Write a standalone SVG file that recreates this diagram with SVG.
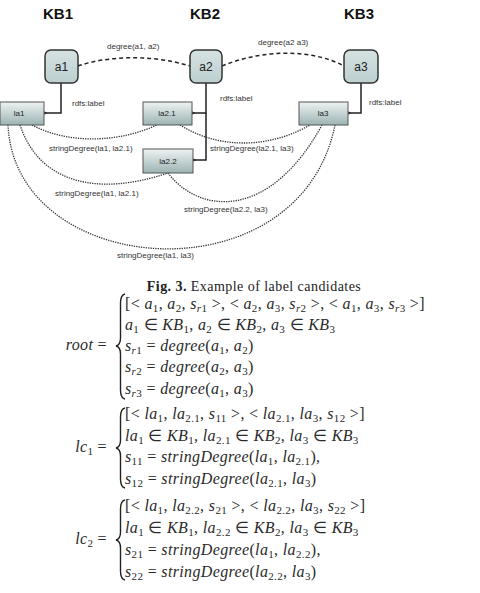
<svg xmlns="http://www.w3.org/2000/svg" width="480" height="593" viewBox="0 0 480 593">
<defs>
<linearGradient id="gl" x1="0" y1="0" x2="0" y2="1"><stop offset="0" stop-color="#eef3f3"/><stop offset="1" stop-color="#9db3b3"/></linearGradient>
<linearGradient id="ga" x1="0" y1="0" x2="0" y2="1"><stop offset="0" stop-color="#d6e2e2"/><stop offset="1" stop-color="#bccfcf"/></linearGradient>
<marker id="arr" viewBox="0 0 10 10" refX="1" refY="5" markerWidth="8" markerHeight="8" orient="auto-start-reverse" markerUnits="userSpaceOnUse"><path d="M9 1 L1 5 L9 9" fill="none" stroke="#222" stroke-width="1.6"/></marker>
</defs>
<style>
.kb{font-family:"Liberation Sans",Arial,sans-serif;font-weight:bold;font-size:15px;fill:#111;text-anchor:middle}
.an rect{fill:url(#ga);stroke:#333;stroke-width:1.5}
.an text{font-family:"Liberation Sans",Arial,sans-serif;font-size:12px;fill:#222;text-anchor:middle}
.ln rect{fill:url(#gl);stroke:#555;stroke-width:1}
.ln text{font-family:"Liberation Sans",Arial,sans-serif;font-size:8px;fill:#222;text-anchor:middle}
.lbl{font-family:"Liberation Sans",Arial,sans-serif;font-size:8px;fill:#333}
.rl{fill:none;stroke:#222;stroke-width:1.5}
.dg{fill:none;stroke:#222;stroke-width:1.5;stroke-dasharray:4 3}
.sd{fill:none;stroke:#333;stroke-width:1.3;stroke-dasharray:1.3 1.1}
.cap{font-family:"Liberation Serif","Times New Roman",serif;font-size:14px;letter-spacing:0.45px;fill:#222}
.m{font-family:"Liberation Serif","Times New Roman",serif;font-size:16px;font-style:italic;letter-spacing:0.35px;fill:#2a2a2a}
.u{font-style:normal}
.i{font-style:italic}
.s{font-size:11px;font-style:normal;baseline-shift:-3px}
.br{fill:none;stroke:#222;stroke-width:1.4}
</style>
<text class="kb" x="58" y="19">KB1</text>
<text class="kb" x="205" y="19">KB2</text>
<text class="kb" x="359" y="19">KB3</text>
<g id="connectors">
<path class="dg" d="M78 66 C110 55,155 55,190 66"/>
<path class="dg" d="M222 66 C260 50,310 48,344 66"/>
<path class="rl" d="M61 83 V113 H46" marker-end="url(#arr)"/>
<path class="rl" d="M206 83 V113 H194" marker-end="url(#arr)"/>
<path class="rl" d="M206 113 V160 H195" marker-end="url(#arr)"/>
<path class="rl" d="M361 83 V113 H350" marker-end="url(#arr)"/>
<path class="sd" d="M32 125 C70 145,120 142,157 125"/>
<path class="sd" d="M20 125 C40 185,100 196,168 173"/>
<path class="sd" d="M8 125 C15 280,300 300,335 125"/>
<path class="sd" d="M180 125 C220 150,270 148,310 125"/>
<path class="sd" d="M168 173 C200 215,270 220,322 125"/>
<text class="lbl" x="107" y="49">degree(a1, a2)</text>
<text class="lbl" x="258" y="45">degree(a2 a3)</text>
<text class="lbl" x="72" y="106">rdfs:label</text>
<text class="lbl" x="220" y="101">rdfs:label</text>
<text class="lbl" x="369" y="105">rdfs:label</text>
<text class="lbl" x="49" y="151">stringDegree(la1, la2.1)</text>
<text class="lbl" x="210" y="151">stringDegree(la2.1, la3)</text>
<text class="lbl" x="55" y="196">stringDegree(la1, la2.1)</text>
<text class="lbl" x="184" y="212">stringDegree(la2.2, la3)</text>
<text class="lbl" x="117" y="258">stringDegree(la1, la3)</text>
</g>
<g id="a1" class="an"><rect x="45" y="50" width="33" height="33" rx="6"/><text x="61.5" y="71">a1</text></g>
<g id="a2" class="an"><rect x="190" y="50" width="32" height="33" rx="6"/><text x="206" y="71">a2</text></g>
<g id="a3" class="an"><rect x="344" y="50" width="34" height="33" rx="6"/><text x="361" y="71">a3</text></g>
<g id="la1" class="ln"><rect x="0" y="102" width="44" height="23"/><text x="19" y="116">la1</text></g>
<g id="la2.1" class="ln"><rect x="143" y="102" width="49" height="23"/><text x="167" y="116">la2.1</text></g>
<g id="la2.2" class="ln"><rect x="143" y="149" width="50" height="24"/><text x="168" y="164">la2.2</text></g>
<g id="la3" class="ln"><rect x="299" y="102" width="49" height="23"/><text x="323" y="116">la3</text></g>
<text class="cap" x="254" y="290.5" text-anchor="middle"><tspan font-weight="bold">Fig. 3.</tspan> Example of label candidates</text>
<g id="root">
<path class="br" d="M125 294 Q120.5 295 120.5 303 L120.5 338 Q120.5 345 116 346 Q120.5 347 120.5 354 L120.5 390 Q120.5 398 125 399"/>
<text class="m" x="107" y="350" text-anchor="end">root<tspan class="u"> =</tspan></text>
<text class="m" x="125" y="308.5"><tspan class="u">[&lt; </tspan>a<tspan class="s">1</tspan><tspan class="u">, </tspan>a<tspan class="s">2</tspan><tspan class="u">, </tspan>s<tspan class="s"><tspan class="i">r</tspan>1</tspan><tspan class="u"> &gt;, &lt; </tspan>a<tspan class="s">2</tspan><tspan class="u">, </tspan>a<tspan class="s">3</tspan><tspan class="u">, </tspan>s<tspan class="s"><tspan class="i">r</tspan>2</tspan><tspan class="u"> &gt;, &lt; </tspan>a<tspan class="s">1</tspan><tspan class="u">, </tspan>a<tspan class="s">3</tspan><tspan class="u">, </tspan>s<tspan class="s"><tspan class="i">r</tspan>3</tspan><tspan class="u"> &gt;]</tspan></text>
<text class="m" x="125" y="329.5">a<tspan class="s">1</tspan><tspan class="u"> ∈ </tspan>KB<tspan class="s">1</tspan><tspan class="u">, </tspan>a<tspan class="s">2</tspan><tspan class="u"> ∈ </tspan>KB<tspan class="s">2</tspan><tspan class="u">, </tspan>a<tspan class="s">3</tspan><tspan class="u"> ∈ </tspan>KB<tspan class="s">3</tspan></text>
<text class="m" x="125" y="350.5">s<tspan class="s"><tspan class="i">r</tspan>1</tspan><tspan class="u"> = </tspan>degree<tspan class="u">(</tspan>a<tspan class="s">1</tspan><tspan class="u">, </tspan>a<tspan class="s">2</tspan><tspan class="u">)</tspan></text>
<text class="m" x="125" y="372">s<tspan class="s"><tspan class="i">r</tspan>2</tspan><tspan class="u"> = </tspan>degree<tspan class="u">(</tspan>a<tspan class="s">2</tspan><tspan class="u">, </tspan>a<tspan class="s">3</tspan><tspan class="u">)</tspan></text>
<text class="m" x="125" y="393.5">s<tspan class="s"><tspan class="i">r</tspan>3</tspan><tspan class="u"> = </tspan>degree<tspan class="u">(</tspan>a<tspan class="s">1</tspan><tspan class="u">, </tspan>a<tspan class="s">3</tspan><tspan class="u">)</tspan></text>
</g>
<g id="lc1">
<path class="br" d="M125 408 Q120.5 409 120.5 417 L120.5 440 Q120.5 447 116 448 Q120.5 449 120.5 456 L120.5 479 Q120.5 487 125 488"/>
<text class="m" x="107" y="452" text-anchor="end">lc<tspan class="s">1</tspan><tspan class="u"> =</tspan></text>
<text class="m" x="125" y="419"><tspan class="u">[&lt; </tspan>la<tspan class="s">1</tspan><tspan class="u">, </tspan>la<tspan class="s">2.1</tspan><tspan class="u">, </tspan>s<tspan class="s">11</tspan><tspan class="u"> &gt;, &lt; </tspan>la<tspan class="s">2.1</tspan><tspan class="u">, </tspan>la<tspan class="s">3</tspan><tspan class="u">, </tspan>s<tspan class="s">12</tspan><tspan class="u"> &gt;]</tspan></text>
<text class="m" x="125" y="441">la<tspan class="s">1</tspan><tspan class="u"> ∈ </tspan>KB<tspan class="s">1</tspan><tspan class="u">, </tspan>la<tspan class="s">2.1</tspan><tspan class="u"> ∈ </tspan>KB<tspan class="s">2</tspan><tspan class="u">, </tspan>la<tspan class="s">3</tspan><tspan class="u"> ∈ </tspan>KB<tspan class="s">3</tspan></text>
<text class="m" x="125" y="462">s<tspan class="s">11</tspan><tspan class="u"> = </tspan>stringDegree<tspan class="u">(</tspan>la<tspan class="s">1</tspan><tspan class="u">, </tspan>la<tspan class="s">2.1</tspan><tspan class="u">),</tspan></text>
<text class="m" x="125" y="484">s<tspan class="s">12</tspan><tspan class="u"> = </tspan>stringDegree<tspan class="u">(</tspan>la<tspan class="s">2.1</tspan><tspan class="u">, </tspan>la<tspan class="s">3</tspan><tspan class="u">)</tspan></text>
</g>
<g id="lc2">
<path class="br" d="M125 500 Q120.5 501 120.5 509 L120.5 532 Q120.5 539 116 540 Q120.5 541 120.5 548 L120.5 571 Q120.5 579 125 580"/>
<text class="m" x="107" y="544" text-anchor="end">lc<tspan class="s">2</tspan><tspan class="u"> =</tspan></text>
<text class="m" x="125" y="511"><tspan class="u">[&lt; </tspan>la<tspan class="s">1</tspan><tspan class="u">, </tspan>la<tspan class="s">2.2</tspan><tspan class="u">, </tspan>s<tspan class="s">21</tspan><tspan class="u"> &gt;, &lt; </tspan>la<tspan class="s">2.2</tspan><tspan class="u">, </tspan>la<tspan class="s">3</tspan><tspan class="u">, </tspan>s<tspan class="s">22</tspan><tspan class="u"> &gt;]</tspan></text>
<text class="m" x="125" y="533">la<tspan class="s">1</tspan><tspan class="u"> ∈ </tspan>KB<tspan class="s">1</tspan><tspan class="u">, </tspan>la<tspan class="s">2.2</tspan><tspan class="u"> ∈ </tspan>KB<tspan class="s">2</tspan><tspan class="u">, </tspan>la<tspan class="s">3</tspan><tspan class="u"> ∈ </tspan>KB<tspan class="s">3</tspan></text>
<text class="m" x="125" y="555">s<tspan class="s">21</tspan><tspan class="u"> = </tspan>stringDegree<tspan class="u">(</tspan>la<tspan class="s">1</tspan><tspan class="u">, </tspan>la<tspan class="s">2.2</tspan><tspan class="u">),</tspan></text>
<text class="m" x="125" y="577">s<tspan class="s">22</tspan><tspan class="u"> = </tspan>stringDegree<tspan class="u">(</tspan>la<tspan class="s">2.2</tspan><tspan class="u">, </tspan>la<tspan class="s">3</tspan><tspan class="u">)</tspan></text>
</g>
</svg>
